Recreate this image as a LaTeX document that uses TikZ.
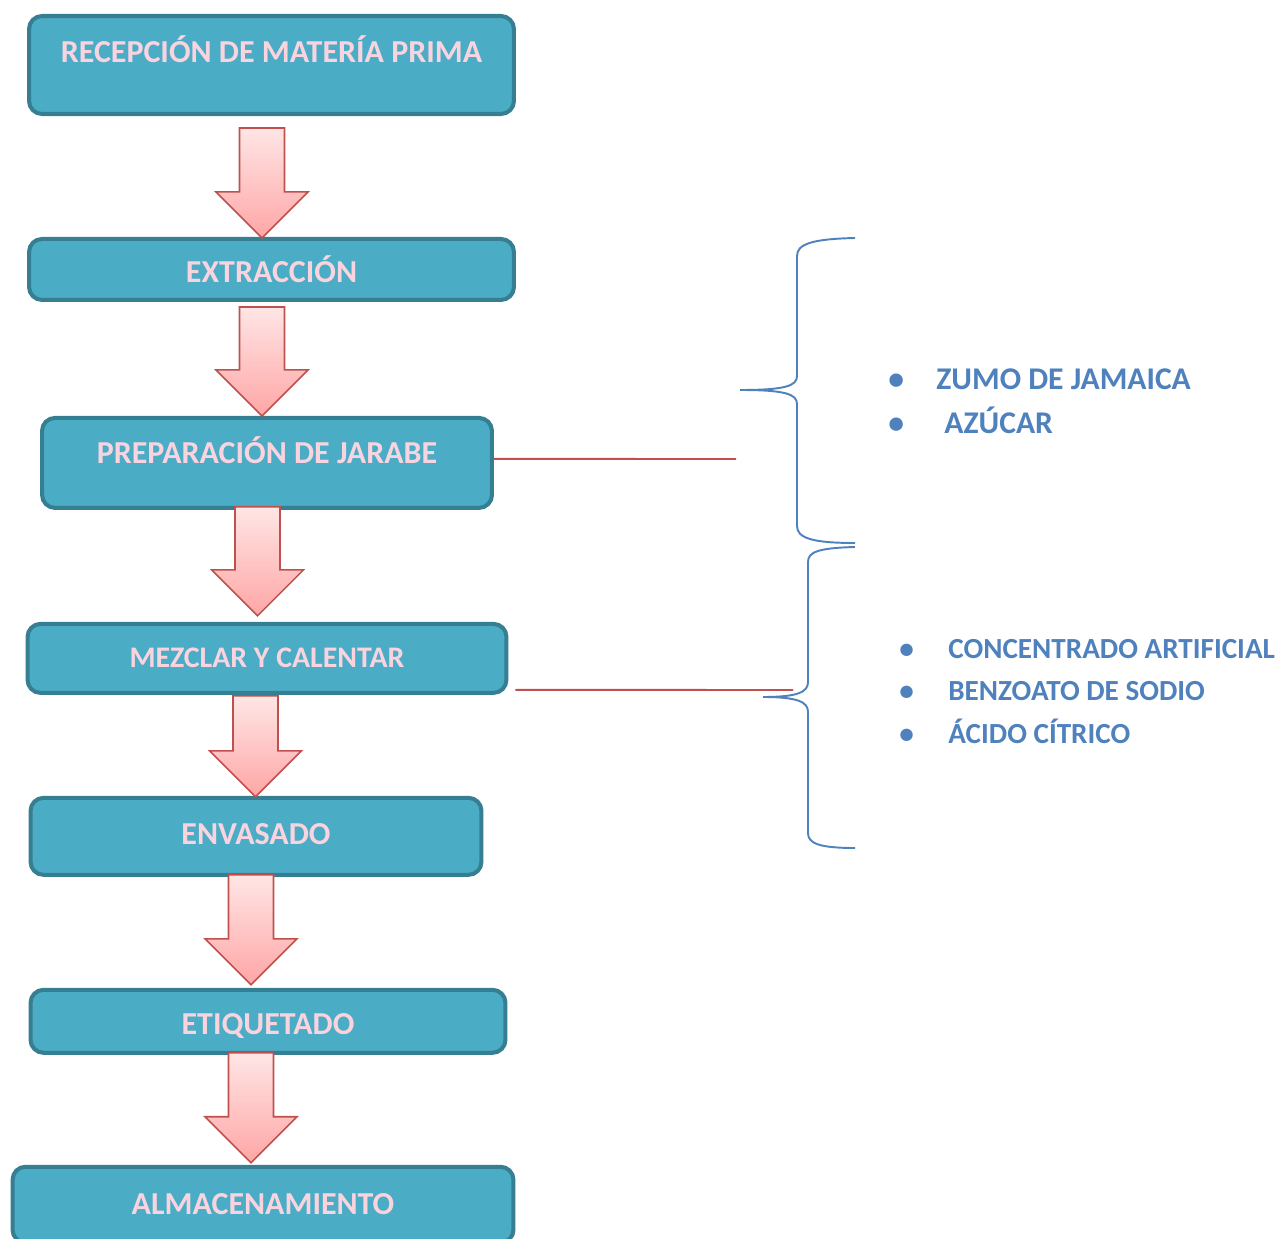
\documentclass[tikz,border=0pt]{standalone}
\usepackage{fontspec}
\setmainfont{Carlito}
\usetikzlibrary{calc}

\definecolor{turquesa}{HTML}{4BACC6}
\definecolor{borde}{HTML}{367E91}
\definecolor{rosa}{HTML}{F9D4DF}
\definecolor{rojo}{HTML}{C0504D}
\definecolor{azul}{HTML}{4F81BD}

\tikzset{
  caja/.style={rectangle, rounded corners=0.26cm, draw=borde, line width=2.3pt,
    fill=turquesa, text=rosa, inner sep=0pt,
    font=\bfseries\fontsize{18.2}{21}\selectfont, text height=11.5pt, text depth=0pt},
  flecha/.style={draw=rojo, line width=0.9pt, top color=red!10, bottom color=red!35,
    to path={let \p1=(\tikztostart), \p2=(\tikztotarget) in
      ({\x1-0.45cm},\y1) -- ({\x1+0.45cm},\y1) -- ({\x1+0.45cm},{\y2+0.92cm})
      -- ({\x1+0.92cm},{\y2+0.92cm}) -- (\x1,\y2) -- ({\x1-0.92cm},{\y2+0.92cm})
      -- ({\x1-0.45cm},{\y2+0.92cm}) -- cycle}},
  linea/.style={draw=rojo, line width=1.1pt},
  llave/.style={draw=azul, line width=1.1pt},
  item/.style={anchor=west, inner sep=0pt, text=azul,
    font=\bfseries\fontsize{16.6}{20}\selectfont, text height=10.5pt, text depth=0pt},
  item grande/.style={item, font=\bfseries\fontsize{18}{21}\selectfont, text height=11.4pt}
}

\begin{document}
\begin{tikzpicture}[x=0.02cm, y=-0.02cm]
  \useasboundingbox (0,0) rectangle (1280,1239);

  % etapas del proceso
  \node (recep) [caja, minimum width=9.70cm, minimum height=1.96cm, text depth=14.8pt] at (271.5,65) {RECEPCIÓN DE MATERÍA PRIMA};
  \node (extrac) [caja, below of=recep, yshift=-3.09cm, minimum width=9.70cm, minimum height=1.22cm, text height=15.4pt] {EXTRACCIÓN};
  \node (jarabe) [caja, below of=extrac, yshift=-2.87cm, xshift=-0.09cm, minimum width=9.00cm, minimum height=1.80cm, text depth=11.3pt] {PREPARACIÓN DE JARABE};
  \node (mezcla) [caja, below of=jarabe, yshift=-2.91cm, minimum width=9.58cm, minimum height=1.38cm, font=\bfseries\fontsize{17}{20}\selectfont, text height=10.8pt] {MEZCLAR Y CALENTAR};
  \node (envas) [caja, below of=mezcla, yshift=-2.56cm, xshift=-0.22cm, minimum width=9.02cm, minimum height=1.54cm, text depth=2pt] {ENVASADO};
  \node (etiq) [caja, below of=envas, yshift=-2.70cm, xshift=0.24cm, minimum width=9.50cm, minimum height=1.26cm, text height=14.8pt] {ETIQUETADO};
  \node (almac) [caja, below of=etiq, yshift=-2.67cm, xshift=-0.10cm, minimum width=10.02cm, minimum height=1.52cm] {ALMACENAMIENTO};

  % flechas
  \draw[flecha] ($(recep.south)+(-9.5,12)$) to ($(extrac.north)+(0,1)$);
  \draw[flecha] ($(extrac.south)+(-9.5,5)$) to (jarabe.north);
  \draw[flecha] ($(jarabe.south)+(-9.5,-3)$) to ($(mezcla.north)+(0,-6)$);
  \draw[flecha] ($(mezcla.south)+(-11.5,1)$) to ($(envas.north)+(0,1)$);
  \draw[flecha] ($(envas.south)+(-5,-2)$) to ($(etiq.north)+(0,-3)$);
  \draw[flecha] ($(etiq.south)+(-17,-2)$) to ($(almac.north)+(0,-2)$);

  % lineas a los ingredientes
  \coordinate (fin1) at (736,459);
  \coordinate (fin2) at (793,690);
  \draw[linea] ($(jarabe.east)+(0,-4)$) -- (fin1);
  \draw[linea] ($(mezcla.east)+(7,31.5)$) -- (fin2);

  % llaves
  \draw[llave] (855,238) .. controls (812,239) and (797,244) .. (797,256) -- (797,376)
    .. controls (797,386) and (785,390) .. (740,390) .. controls (785,390) and (797,394) .. (797,404)
    -- (797,526) .. controls (797,538) and (812,543) .. (855,543);
  \draw[llave] (855,547) .. controls (818,548) and (808,552) .. (808,562) -- (808,682)
    .. controls (808,692) and (798,697) .. (763,697) .. controls (798,697) and (808,702) .. (808,712)
    -- (808,833) .. controls (808,843) and (818,848) .. (855,848);

  % ingredientes
  \node (zumo) [item grande] at (888,379) {\makebox[0.96cm][l]{\textbullet}ZUMO DE JAMAICA};
  \node (azucar) [item grande] at (888,423) {\makebox[1.12cm][l]{\textbullet}AZÚCAR};
  \node (concen) [item] at (899,649) {\makebox[0.98cm][l]{\textbullet}CONCENTRADO ARTIFICIAL};
  \node (benzo) [item] at (899,691) {\makebox[0.98cm][l]{\textbullet}BENZOATO DE SODIO};
  \node (acido) [item] at (899,734) {\makebox[0.98cm][l]{\textbullet}ÁCIDO CÍTRICO};
\end{tikzpicture}
\end{document}
